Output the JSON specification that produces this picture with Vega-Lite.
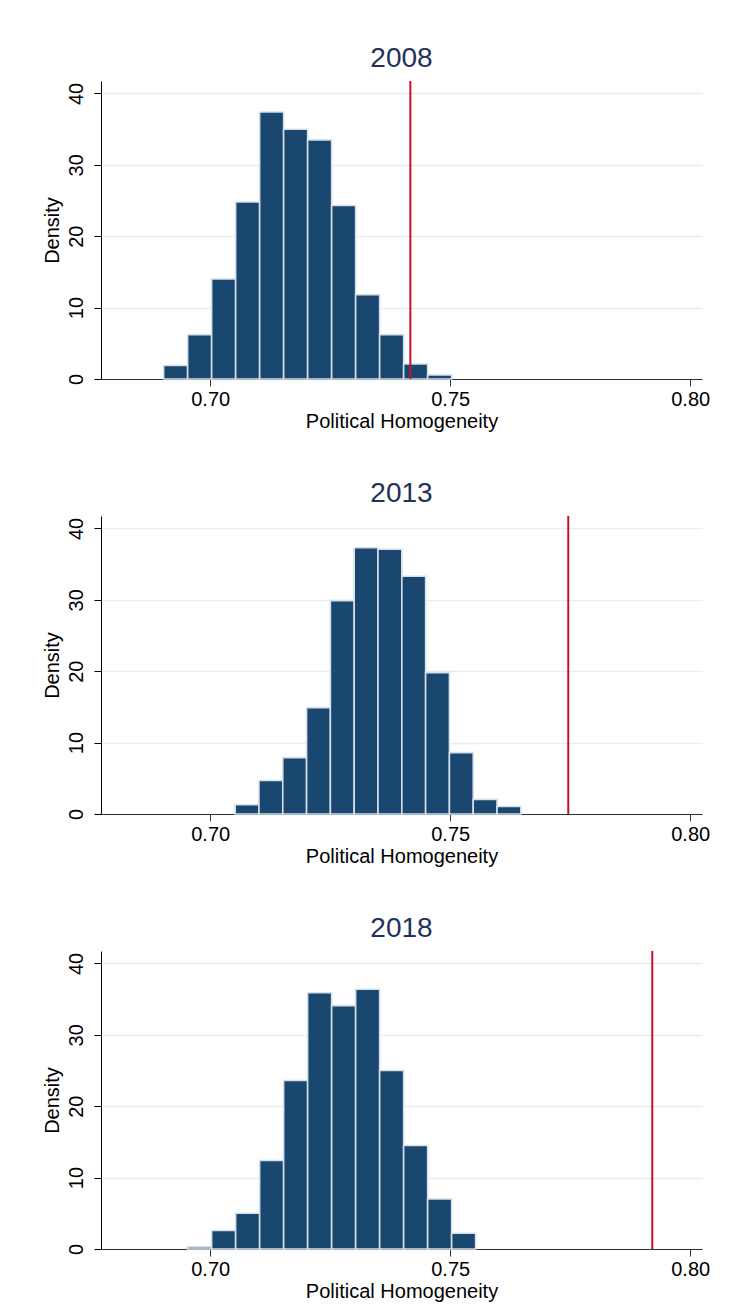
{
  "$schema": "https://vega.github.io/schema/vega-lite/v6.json",
  "background": "white",
  "padding": {"left": 42, "top": 45, "right": 10, "bottom": 5},
  "bounds": "flush",
  "spacing": 137,
  "datasets": {
    "bars": [
      {"year": 2008, "bin_start": 0.6903, "bin_end": 0.6953, "density": 1.9},
      {"year": 2008, "bin_start": 0.6953, "bin_end": 0.7003, "density": 6.2},
      {"year": 2008, "bin_start": 0.7003, "bin_end": 0.7053, "density": 14.0},
      {"year": 2008, "bin_start": 0.7053, "bin_end": 0.7103, "density": 24.8},
      {"year": 2008, "bin_start": 0.7103, "bin_end": 0.7153, "density": 37.4},
      {"year": 2008, "bin_start": 0.7153, "bin_end": 0.7203, "density": 35.0},
      {"year": 2008, "bin_start": 0.7203, "bin_end": 0.7253, "density": 33.5},
      {"year": 2008, "bin_start": 0.7253, "bin_end": 0.7303, "density": 24.3},
      {"year": 2008, "bin_start": 0.7303, "bin_end": 0.7353, "density": 11.8},
      {"year": 2008, "bin_start": 0.7353, "bin_end": 0.7403, "density": 6.2},
      {"year": 2008, "bin_start": 0.7403, "bin_end": 0.7453, "density": 2.1},
      {"year": 2008, "bin_start": 0.7453, "bin_end": 0.7503, "density": 0.55},
      {"year": 2013, "bin_start": 0.7052, "bin_end": 0.71016, "density": 1.3},
      {"year": 2013, "bin_start": 0.71016, "bin_end": 0.71512, "density": 4.7},
      {"year": 2013, "bin_start": 0.71512, "bin_end": 0.72008, "density": 7.9},
      {"year": 2013, "bin_start": 0.72008, "bin_end": 0.72504, "density": 14.9},
      {"year": 2013, "bin_start": 0.72504, "bin_end": 0.73, "density": 29.9},
      {"year": 2013, "bin_start": 0.73, "bin_end": 0.73496, "density": 37.3},
      {"year": 2013, "bin_start": 0.73496, "bin_end": 0.73992, "density": 37.1},
      {"year": 2013, "bin_start": 0.73992, "bin_end": 0.74488, "density": 33.3},
      {"year": 2013, "bin_start": 0.74488, "bin_end": 0.74984, "density": 19.8},
      {"year": 2013, "bin_start": 0.74984, "bin_end": 0.7548, "density": 8.6},
      {"year": 2013, "bin_start": 0.7548, "bin_end": 0.75976, "density": 2.05},
      {"year": 2013, "bin_start": 0.75976, "bin_end": 0.76472, "density": 1.05},
      {"year": 2018, "bin_start": 0.6953, "bin_end": 0.7003, "density": 0.3},
      {"year": 2018, "bin_start": 0.7003, "bin_end": 0.7053, "density": 2.6},
      {"year": 2018, "bin_start": 0.7053, "bin_end": 0.7103, "density": 5.0},
      {"year": 2018, "bin_start": 0.7103, "bin_end": 0.7153, "density": 12.4},
      {"year": 2018, "bin_start": 0.7153, "bin_end": 0.7203, "density": 23.6},
      {"year": 2018, "bin_start": 0.7203, "bin_end": 0.7253, "density": 35.9},
      {"year": 2018, "bin_start": 0.7253, "bin_end": 0.7303, "density": 34.1},
      {"year": 2018, "bin_start": 0.7303, "bin_end": 0.7353, "density": 36.4},
      {"year": 2018, "bin_start": 0.7353, "bin_end": 0.7403, "density": 25.0},
      {"year": 2018, "bin_start": 0.7403, "bin_end": 0.7453, "density": 14.5},
      {"year": 2018, "bin_start": 0.7453, "bin_end": 0.7503, "density": 7.0},
      {"year": 2018, "bin_start": 0.7503, "bin_end": 0.7553, "density": 2.2}
    ],
    "lines": [
      {"year": 2008, "value": 0.7417},
      {"year": 2013, "value": 0.7746},
      {"year": 2018, "value": 0.7921}
    ]
  },
  "vconcat": [
    {
      "title": {"text": "2008"},
      "width": 601,
      "height": 298,
      "layer": [
        {
          "data": {"name": "bars"},
          "transform": [{"filter": "datum.year == 2008"}],
          "mark": {"type": "rect", "fill": "#1a476f", "stroke": "#d6dfea", "strokeWidth": 1.6},
          "encoding": {
            "x": {"field": "bin_start", "type": "quantitative", "title": "Political Homogeneity", "scale": {"domain": [0.67725, 0.80246], "nice": false, "zero": false}, "axis": {"values": [0.7, 0.75, 0.8], "format": ".2f"}},
            "x2": {"field": "bin_end"},
            "y": {"field": "density", "type": "quantitative", "title": "Density", "scale": {"domain": [0, 41.75], "nice": false}, "axis": {"values": [0, 10, 20, 30, 40]}},
            "y2": {"datum": 0}
          }
        },
        {
          "data": {"name": "lines"},
          "transform": [{"filter": "datum.year == 2008"}],
          "mark": {"type": "rule", "color": "#c8102e", "strokeWidth": 2},
          "encoding": {"x": {"field": "value", "type": "quantitative"}}
        }
      ]
    },
    {
      "title": {"text": "2013"},
      "width": 601,
      "height": 298,
      "layer": [
        {
          "data": {"name": "bars"},
          "transform": [{"filter": "datum.year == 2013"}],
          "mark": {"type": "rect", "fill": "#1a476f", "stroke": "#d6dfea", "strokeWidth": 1.6},
          "encoding": {
            "x": {"field": "bin_start", "type": "quantitative", "title": "Political Homogeneity", "scale": {"domain": [0.67725, 0.80246], "nice": false, "zero": false}, "axis": {"values": [0.7, 0.75, 0.8], "format": ".2f"}},
            "x2": {"field": "bin_end"},
            "y": {"field": "density", "type": "quantitative", "title": "Density", "scale": {"domain": [0, 41.75], "nice": false}, "axis": {"values": [0, 10, 20, 30, 40]}},
            "y2": {"datum": 0}
          }
        },
        {
          "data": {"name": "lines"},
          "transform": [{"filter": "datum.year == 2013"}],
          "mark": {"type": "rule", "color": "#c8102e", "strokeWidth": 2},
          "encoding": {"x": {"field": "value", "type": "quantitative"}}
        }
      ]
    },
    {
      "title": {"text": "2018"},
      "width": 601,
      "height": 298,
      "layer": [
        {
          "data": {"name": "bars"},
          "transform": [{"filter": "datum.year == 2018"}],
          "mark": {"type": "rect", "fill": "#1a476f", "stroke": "#d6dfea", "strokeWidth": 1.6},
          "encoding": {
            "x": {"field": "bin_start", "type": "quantitative", "title": "Political Homogeneity", "scale": {"domain": [0.67725, 0.80246], "nice": false, "zero": false}, "axis": {"values": [0.7, 0.75, 0.8], "format": ".2f"}},
            "x2": {"field": "bin_end"},
            "y": {"field": "density", "type": "quantitative", "title": "Density", "scale": {"domain": [0, 41.75], "nice": false}, "axis": {"values": [0, 10, 20, 30, 40]}},
            "y2": {"datum": 0}
          }
        },
        {
          "data": {"name": "lines"},
          "transform": [{"filter": "datum.year == 2018"}],
          "mark": {"type": "rule", "color": "#c8102e", "strokeWidth": 2},
          "encoding": {"x": {"field": "value", "type": "quantitative"}}
        }
      ]
    }
  ],
  "config": {
    "font": "Liberation Sans",
    "view": {"stroke": null},
    "title": {"fontSize": 28, "fontWeight": "normal", "color": "#22325a", "anchor": "middle", "baseline": "alphabetic", "offset": 7},
    "axis": {
      "labelFont": "Liberation Sans",
      "titleFont": "Liberation Sans",
      "labelColor": "black",
      "titleColor": "black",
      "labelFontSize": 20,
      "titleFontSize": 20,
      "titleFontWeight": "normal",
      "tickColor": "black",
      "domainColor": "black",
      "tickSize": 7
    },
    "axisX": {"grid": false, "labelPadding": 3, "titlePadding": 2, "domainColor": "#333333", "tickColor": "#333333", "labelFlush": false},
    "axisY": {"grid": true, "gridColor": "#e6eef1", "gridWidth": 1.3, "labelAngle": -90, "labelAlign": "center", "labelBaseline": "alphabetic", "labelPadding": 12, "titlePadding": 4}
  }
}
